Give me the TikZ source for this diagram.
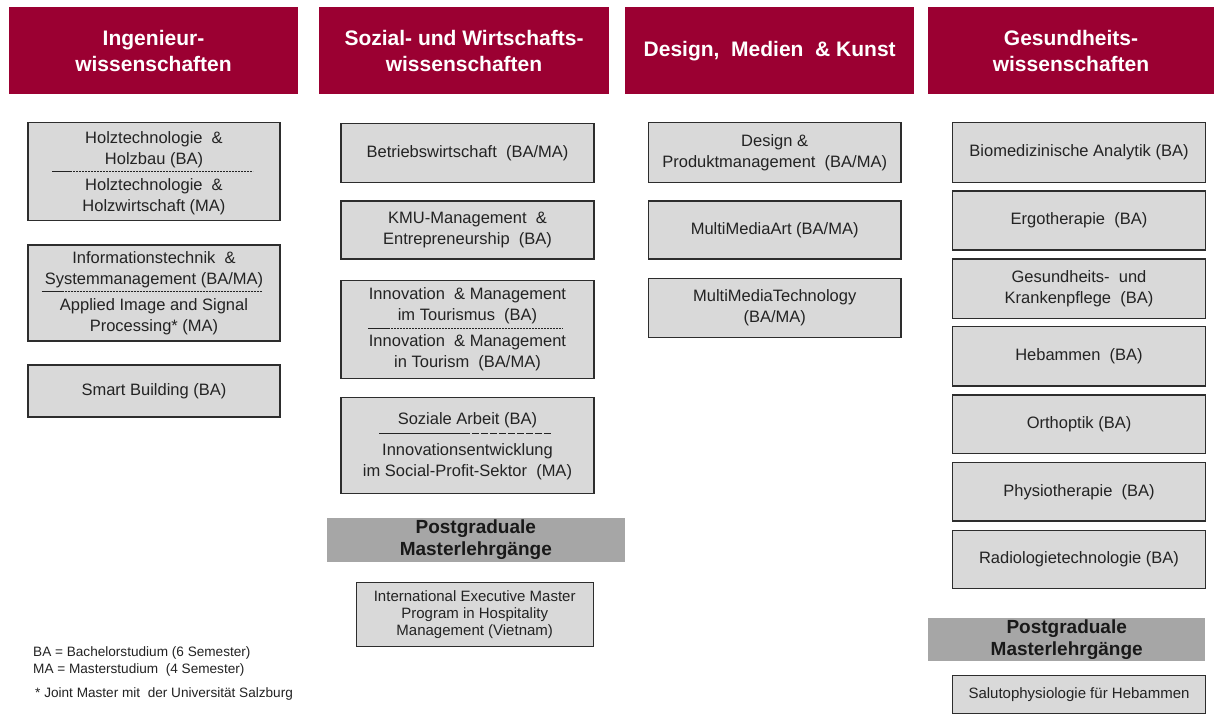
\documentclass[tikz,border=0pt]{standalone}
\usepackage{fontspec}
\setmainfont{Liberation Sans}
\definecolor{hdred}{RGB}{155,0,50}
\definecolor{boxgray}{RGB}{217,217,217}
\definecolor{bannergray}{RGB}{166,166,166}
\definecolor{txt}{RGB}{35,35,35}
\definecolor{edge}{RGB}{45,45,45}
\begin{document}
\begin{tikzpicture}[x=1pt,y=-1pt,
  header/.style={fill=hdred,draw=none,text=white,align=center,inner sep=0pt,
    font=\fontsize{21}{25.5}\selectfont\bfseries},
  prog/.style={fill=boxgray,draw=edge,line width=1.3pt,text=txt,align=center,inner sep=0pt,
    font=\fontsize{16.5}{21}\selectfont},
  plain/.style={text=txt,align=center,inner sep=0pt,font=\fontsize{16.5}{21}\selectfont},
  smallprog/.style={prog,font=\fontsize{15}{16.7}\selectfont},
  banner/.style={fill=bannergray,draw=none,text=black!90,align=center,inner sep=0pt,
    font=\fontsize{19}{22}\selectfont\bfseries},
  sepsolid/.style={draw=txt,line width=0.9pt},
  sepdash/.style={draw=txt,line width=0.6pt,dash pattern=on 2pt off 1pt},
  sepdashlong/.style={draw=txt,line width=0.6pt,dash pattern=on 7pt off 2pt},
  legend/.style={text=txt,anchor=west,inner sep=0pt,font=\fontsize{13.6}{15}\selectfont}
]
\useasboundingbox (0,0) rectangle (1214,715);
\fill[white] (0,0) rectangle (1214,715);

% headers
\node[header,minimum width=289pt,minimum height=87pt] (h1) at (153.5,50.8) {Ingenieur-\\wissenschaften};
\node[header,minimum width=290pt,minimum height=87pt] (h2) at (464,50.8) {Sozial- und Wirtschafts-\\wissenschaften};
\node[header,minimum width=289.3pt,minimum height=87pt] (h3) at (769.7,50.8) {Design,\ \ Medien\ \ \& Kunst};
\node[header,minimum width=286pt,minimum height=87pt] (h4) at (1071,50.8) {Gesundheits-\\wissenschaften};

% left column
\node[prog,minimum width=252pt,minimum height=98pt] (l1) at (154,171.7) {};
\node[plain] (l1a) at (154,150.2) {Holztechnologie \ \&\\Holzbau (BA)};
\node[plain] (l1b) at (154,196.9) {Holztechnologie \ \&\\Holzwirtschaft (MA)};
\draw[sepsolid] (52,171.7) -- (70,171.7);
\draw[sepdash] (70,171.7) -- (253,171.7);

\node[prog,minimum width=252pt,minimum height=96pt] (l2) at (154,293) {};
\node[plain] (l2a) at (154,269.7) {Informationstechnik \ \&\\Systemmanagement (BA/MA)};
\node[plain] (l2b) at (154,317) {Applied Image and Signal\\Processing* (MA)};
\draw[sepsolid] (41.7,291.7) -- (61.7,291.7);
\draw[sepdash] (61.7,291.7) -- (261.7,291.7);

\node[prog,minimum width=252pt,minimum height=52pt] (l3) at (154,391) {Smart Building (BA)};

% middle column
\node[prog,minimum width=253pt,minimum height=59pt] (m1) at (467.5,152.8) {Betriebswirtschaft \ (BA/MA)};
\node[prog,minimum width=253pt,minimum height=58pt] (m2) at (467.5,230) {KMU-Management \ \&\\Entrepreneurship \ (BA)};
\node[prog,minimum width=253pt,minimum height=97.6pt] (m3) at (467.5,329.5) {};
\node[plain] (m3a) at (467.5,305.3) {Innovation \ \& Management\\im Tourismus \ (BA)};
\node[plain] (m3b) at (467.5,352.3) {Innovation \ \& Management\\in Tourism \ (BA/MA)};
\draw[sepsolid] (368,328.3) -- (388,328.3);
\draw[sepdash] (388,328.3) -- (563,328.3);
\node[prog,minimum width=253pt,minimum height=96pt] (m4) at (467.5,445.3) {};
\node[plain] (m4a) at (467.5,420.7) {Soziale Arbeit (BA)};
\node[plain] (m4b) at (467.5,461.7) {Innovationsentwicklung\\im Social-Profit-Sektor \ (MA)};
\draw[sepsolid] (379,433.3) -- (463,433.3);
\draw[sepdashlong] (463,433.3) -- (552,433.3);
\node[banner,minimum width=298pt,minimum height=43.4pt] (mb) at (475.8,540) {Postgraduale\\Masterlehrgänge};
\node[smallprog,minimum width=237pt,minimum height=64pt] (m5) at (474.7,614.7) {International Executive Master\\Program in Hospitality\\Management (Vietnam)};

% design column
\node[prog,minimum width=252.7pt,minimum height=59.6pt] (d1) at (774.7,152.5) {Design \&\\Produktmanagement \ (BA/MA)};
\node[prog,minimum width=252.7pt,minimum height=58pt] (d2) at (774.7,230) {MultiMediaArt (BA/MA)};
\node[prog,minimum width=252.7pt,minimum height=59.4pt] (d3) at (774.7,308) {MultiMediaTechnology\\(BA/MA)};

% health column
\node[prog,minimum width=253.4pt,minimum height=59.6pt] (g1) at (1079,152.5) {Biomedizinische Analytik (BA)};
\node[prog,minimum width=253.4pt,minimum height=59pt] (g2) at (1079,220.5) {Ergotherapie \ (BA)};
\node[prog,minimum width=253.4pt,minimum height=59.3pt] (g3) at (1079,288.7) {Gesundheits- \ und\\Krankenpflege \ (BA)};
\node[prog,minimum width=253.4pt,minimum height=59.3pt] (g4) at (1079,356.3) {Hebammen \ (BA)};
\node[prog,minimum width=253.4pt,minimum height=58.3pt] (g5) at (1079,424.2) {Orthoptik (BA)};
\node[prog,minimum width=253.4pt,minimum height=58.3pt] (g6) at (1079,491.8) {Physiotherapie \ (BA)};
\node[prog,minimum width=253.4pt,minimum height=57.6pt] (g7) at (1079,559.5) {Radiologietechnologie (BA)};
\node[banner,minimum width=276.7pt,minimum height=43pt] (gb) at (1066.7,639.2) {Postgraduale\\Masterlehrgänge};
\node[smallprog,minimum width=253.4pt,minimum height=38pt] (g8) at (1079,694.5) {Salutophysiologie für Hebammen};

% legend
\node[legend] (lg1) at (33,653) {BA = Bachelorstudium (6 Semester)};
\node[legend] (lg2) at (33,670) {MA = Masterstudium \ (4 Semester)};
\node[legend] (lg3) at (35,694) {* Joint Master mit \ der Universität Salzburg};
\end{tikzpicture}
\end{document}
